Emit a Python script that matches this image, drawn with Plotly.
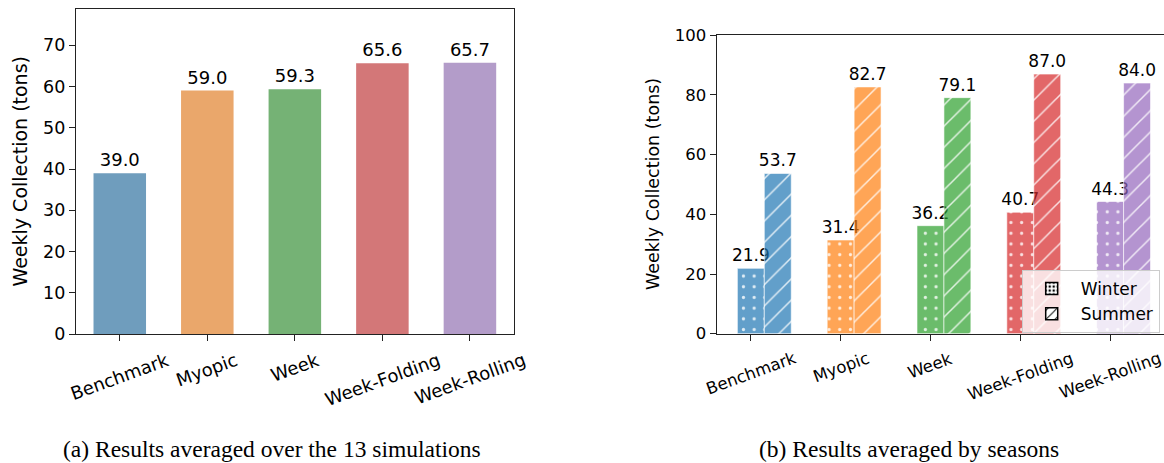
import plotly.graph_objects as go

W, H = 1164, 463

categories = ["Benchmark", "Myopic", "Week", "Week-Folding", "Week-Rolling"]
overall = [39.0, 59.0, 59.3, 65.6, 65.7]
winter = [21.9, 31.4, 36.2, 40.7, 44.3]
summer = [53.7, 82.7, 79.1, 87.0, 84.0]

# seaborn-desaturated tab10 (left) and plain tab10 (right)
left_colors = ["rgba(50,115,161,0.7)", "rgba(225,129,44,0.7)", "rgba(59,145,59,0.7)",
               "rgba(192,61,62,0.7)", "rgba(147,114,178,0.7)"]
right_colors = ["rgba(31,119,180,0.7)", "rgba(255,127,14,0.7)", "rgba(44,160,44,0.7)",
                "rgba(214,39,40,0.7)", "rgba(148,103,189,0.7)"]

def px_x(p):
    return p / W

def px_y(p):
    return (H - p) / H

L = dict(x0=76, x1=513.7, y0=334.3, y1=8.7)
R = dict(x0=716.7, x1=1164, y0=333.7, y1=35.3)

FONT = "DejaVu Sans"
xs = list(range(len(categories)))

fig = go.Figure()

fig.add_trace(go.Bar(
    x=xs, y=overall, width=0.6, marker=dict(color=left_colors, line=dict(width=0)),
    text=[f"{v:.1f}" for v in overall], textposition="outside", cliponaxis=False,
    constraintext="none", textfont=dict(family=FONT, size=18, color="black"),
    xaxis="x", yaxis="y", showlegend=False, hoverinfo="skip"))

fig.add_trace(go.Bar(
    x=xs, y=winter, width=0.3, offset=-0.15,
    marker=dict(color="white", line=dict(width=1, color="rgba(255,255,255,0.6)"),
                pattern=dict(shape=".", fillmode="replace", bgcolor=right_colors,
                             fgcolor="rgba(255,255,255,0.8)",
                             size=10.7, solidity=0.07)),
    text=[f"{v:.1f}" for v in winter], textposition="outside", cliponaxis=False,
    constraintext="none", textfont=dict(family=FONT, size=17, color="black"),
    xaxis="x2", yaxis="y2", showlegend=False, hoverinfo="skip"))

fig.add_trace(go.Bar(
    x=xs, y=summer, width=0.3, offset=0.15,
    marker=dict(color="white", line=dict(width=1, color="rgba(255,255,255,0.6)"),
                pattern=dict(shape="/", fillmode="replace", bgcolor=right_colors,
                             fgcolor="rgba(255,255,255,0.8)",
                             size=15, solidity=0.1)),
    text=[f"{v:.1f}" for v in summer], textposition="outside", cliponaxis=False,
    constraintext="none", textfont=dict(family=FONT, size=17, color="black"),
    xaxis="x2", yaxis="y2", showlegend=False, hoverinfo="skip"))

# legend proxies
fig.add_trace(go.Bar(x=[None], y=[None], name="Winter", xaxis="x2", yaxis="y2",
                     marker=dict(color="white", line=dict(width=1.5, color="black"),
                                 pattern=dict(shape=".", fillmode="replace", bgcolor="white",
                                              fgcolor="black", size=5, solidity=0.3))))
fig.add_trace(go.Bar(x=[None], y=[None], name="Summer", xaxis="x2", yaxis="y2",
                     marker=dict(color="white", line=dict(width=1.5, color="black"),
                                 pattern=dict(shape="/", fillmode="replace", bgcolor="white",
                                              fgcolor="black", size=8, solidity=0.15))))

axis_common = dict(showgrid=False, zeroline=False, linecolor="#222", linewidth=1.2,
                   ticks="outside", ticklen=6, tickwidth=1.2, tickcolor="#222",
                   automargin=False)

fig.update_layout(
    template="none",
    width=W, height=H, margin=dict(l=0, r=0, t=0, b=0, pad=0), autosize=False,
    paper_bgcolor="white", plot_bgcolor="white", barmode="overlay",
    font=dict(family=FONT, color="black"),
    xaxis=dict(domain=[px_x(L["x0"]), px_x(L["x1"])], range=[-0.5, 4.5],
               tickvals=xs, showticklabels=False, mirror=True, showline=True,
               anchor="y", **axis_common),
    yaxis=dict(domain=[px_y(L["y0"]), px_y(L["y1"])], range=[0, 78.8],
               tickvals=[0, 10, 20, 30, 40, 50, 60, 70], mirror=True, showline=True,
               tickfont=dict(size=17.5), anchor="x", **axis_common),
    xaxis2=dict(domain=[px_x(R["x0"]), 1.0], range=[-0.38, 4.6],
                tickvals=xs, showticklabels=False, mirror=True, showline=True,
                anchor="y2", **axis_common),
    yaxis2=dict(domain=[px_y(R["y0"]), px_y(R["y1"])], range=[0, 100],
                tickvals=[0, 20, 40, 60, 80, 100], showline=True,
                tickfont=dict(size=16.5), anchor="x2", **axis_common),
    legend=dict(x=px_x(1021.7), y=px_y(270), xanchor="left", yanchor="top",
                bgcolor="rgba(255,255,255,0.8)", bordercolor="#cccccc", borderwidth=1,
                itemwidth=48, font=dict(family=FONT, size=17)),
)

ann = []
for i, c in enumerate(categories):
    ann.append(dict(x=i, y=px_y(L["y0"]), xref="x", yref="paper", text=c, showarrow=False,
                    textangle=-20, xanchor="center", yanchor="top", yshift=-12,
                    font=dict(family=FONT, size=18)))
    ann.append(dict(x=i, y=px_y(R["y0"]), xref="x2", yref="paper", text=c, showarrow=False,
                    textangle=-20, xanchor="center", yanchor="top", yshift=-12,
                    font=dict(family=FONT, size=16.5)))

ann.append(dict(x=px_x(19), y=px_y((L["y0"] + L["y1"]) / 2), xref="paper", yref="paper",
                text="Weekly Collection (tons)", showarrow=False, textangle=-90,
                xanchor="center", yanchor="middle", font=dict(family=FONT, size=19)))
ann.append(dict(x=px_x(653.6), y=px_y((R["y0"] + R["y1"]) / 2), xref="paper", yref="paper",
                text="Weekly Collection (tons)", showarrow=False, textangle=-90,
                xanchor="center", yanchor="middle", font=dict(family=FONT, size=17.5)))

ann.append(dict(x=px_x(272), y=0, xref="paper", yref="paper",
                text="(a) Results averaged over the 13 simulations", showarrow=False,
                xanchor="center", yanchor="bottom", yshift=-1,
                font=dict(family="Liberation Serif", size=23.5)))
ann.append(dict(x=px_x(908.5), y=0, xref="paper", yref="paper",
                text="(b) Results averaged by seasons", showarrow=False,
                xanchor="center", yanchor="bottom", yshift=-1,
                font=dict(family="Liberation Serif", size=23.5)))

fig.update_layout(annotations=ann)
fig.write_html("out.html")
